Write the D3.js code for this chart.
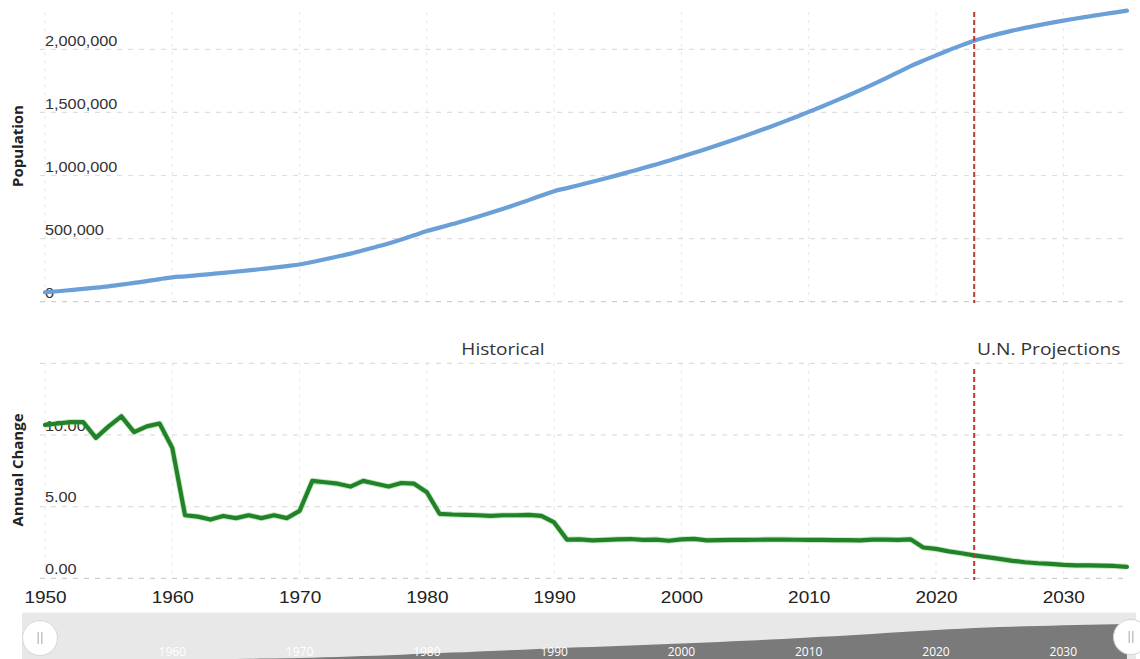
<!DOCTYPE html>
<html>
<head>
<meta charset="utf-8">
<script src="https://cdn.jsdelivr.net/npm/d3@7"></script>
<style>
  body { margin: 0; background: #fff; }
  svg { display: block; font-family: "Open Sans", "DejaVu Sans", sans-serif; }
</style>
</head>
<body>
<svg id="chart" width="1140" height="659"></svg>
<script>
// Yearly series, 1950–2035 (2023 onward are U.N. projections)
const years = [
  1950,1951,1952,1953,1954,1955,1956,1957,1958,1959,
  1960,1961,1962,1963,1964,1965,1966,1967,1968,1969,
  1970,1971,1972,1973,1974,1975,1976,1977,1978,1979,
  1980,1981,1982,1983,1984,1985,1986,1987,1988,1989,
  1990,1991,1992,1993,1994,1995,1996,1997,1998,1999,
  2000,2001,2002,2003,2004,2005,2006,2007,2008,2009,
  2010,2011,2012,2013,2014,2015,2016,2017,2018,2019,
  2020,2021,2022,2023,2024,2025,2026,2027,2028,2029,
  2030,2031,2032,2033,2034,2035
];

const population = [
  75000,83000,92000,101000,111000,122000,135000,149000,163000,179000,
  193000,201000,210000,219000,228000,238000,248000,259000,270000,282000,
  295000,315000,336000,358000,381000,407000,434000,462000,493000,526000,
  560000,587000,615000,643000,673000,704000,736000,770000,805000,841000,
  876000,900000,925000,950000,976000,1003000,1031000,1059000,1088000,1117000,
  1148000,1180000,1212000,1245000,1279000,1314000,1350000,1387000,1425000,1464000,
  1504000,1545000,1587000,1630000,1674000,1720000,1768000,1817000,1866000,1910000,
  1952000,1993000,2031000,2068000,2097000,2124000,2148000,2170000,2190000,2209000,
  2227000,2244000,2260000,2276000,2291000,2306000
];

const annualChange = [
  10.7,10.8,10.9,10.9,9.8,10.6,11.3,10.2,10.6,10.8,
  9.1,4.4,4.3,4.1,4.35,4.2,4.4,4.2,4.4,4.2,
  4.7,6.8,6.7,6.6,6.4,6.8,6.6,6.4,6.65,6.6,
  6.0,4.5,4.45,4.42,4.4,4.35,4.4,4.4,4.42,4.35,
  3.9,2.7,2.72,2.65,2.68,2.72,2.74,2.68,2.7,2.62,
  2.72,2.75,2.65,2.67,2.68,2.68,2.69,2.7,2.7,2.69,
  2.68,2.68,2.67,2.66,2.65,2.7,2.7,2.68,2.72,2.15,
  2.05,1.88,1.75,1.6,1.48,1.35,1.22,1.12,1.05,1.0,
  0.94,0.9,0.9,0.88,0.86,0.8
];

const yearTicks = [1950,1960,1970,1980,1990,2000,2010,2020,2030];
const navYearTicks = [1960,1970,1980,1990,2000,2010,2020,2030];
const populationTicks = [0,500000,1000000,1500000,2000000];
const changeTicks = [0,5,10,15];
const changeLabelTicks = [0,5,10];
const projectionStart = 2023;
const historicalLabel = "Historical";
const projectionLabel = "U.N. Projections";
const populationTitle = "Population";
const changeTitle = "Annual Change";

const svg = d3.select("#chart");

// Scales
const x = d3.scaleLinear().domain([1950, 2030]).range([45, 1063.3]);
const yPop = d3.scaleLinear().domain([0, 2000000]).range([301.7, 49.3]);
const yChg = d3.scaleLinear().domain([0, 15]).range([578.3, 363.3]);
const yNav = d3.scaleLinear().domain([0, 2306000]).range([663, 624]);

// Widen glyphs horizontally by factor k
function widen(sel, k) {
  sel.each(function () {
    const w = this.getComputedTextLength();
    d3.select(this).attr("textLength", w * k).attr("lengthAdjust", "spacingAndGlyphs");
  });
}

const gridColor = "#dedede";
const left = 40, right = 1128;

// ---------- Grid: top panel ----------
const gTopGrid = svg.append("g");
gTopGrid.selectAll("line.v").data(yearTicks).join("line")
  .attr("x1", d => x(d)).attr("x2", d => x(d))
  .attr("y1", 12).attr("y2", 302)
  .attr("stroke", "#e6e6e6").attr("stroke-width", 1)
  .attr("stroke-dasharray", "3,5");
gTopGrid.selectAll("line.h").data(populationTicks).join("line")
  .attr("x1", left).attr("x2", right)
  .attr("y1", d => yPop(d)).attr("y2", d => yPop(d))
  .attr("stroke", d => d === 0 ? "#cfcfcf" : gridColor).attr("stroke-width", 1.2)
  .attr("stroke-dasharray", "5,6");

// ---------- Grid: bottom panel ----------
const gBotGrid = svg.append("g");
gBotGrid.selectAll("line.v").data(yearTicks).join("line")
  .attr("x1", d => x(d)).attr("x2", d => x(d))
  .attr("y1", 363).attr("y2", 579)
  .attr("stroke", "#e6e6e6").attr("stroke-width", 1)
  .attr("stroke-dasharray", "3,5");
gBotGrid.selectAll("line.h").data(changeTicks).join("line")
  .attr("x1", left).attr("x2", right)
  .attr("y1", d => yChg(d)).attr("y2", d => yChg(d))
  .attr("stroke", d => d === 0 ? "#cfcfcf" : gridColor).attr("stroke-width", 1.2)
  .attr("stroke-dasharray", "5,6");

// ---------- Y axes (labels sit inside the plot, just above each gridline) ----------
const popAxis = d3.axisRight(yPop).tickValues(populationTicks)
  .tickFormat(d3.format(",")).tickSize(0).tickPadding(0);
const gPopAxis = svg.append("g").attr("transform", "translate(45,0)").call(popAxis);
gPopAxis.select(".domain").remove();
gPopAxis.selectAll("text")
  .attr("dy", "-0.25em").attr("x", 0)
  .style("font-size", "15.5px").style("fill", "#333");
widen(gPopAxis.selectAll("text"), 1.05);

const chgAxis = d3.axisRight(yChg).tickValues(changeLabelTicks)
  .tickFormat(d3.format(".2f")).tickSize(0).tickPadding(0);
const gChgAxis = svg.append("g").attr("transform", "translate(45,0)").call(chgAxis);
gChgAxis.select(".domain").remove();
gChgAxis.selectAll("text")
  .attr("dy", "-0.32em").attr("x", 0)
  .style("font-size", "15.5px").style("fill", "#333");
widen(gChgAxis.selectAll("text"), 1.05);

// Axis titles
svg.append("text")
  .attr("transform", "translate(23,146) rotate(-90)")
  .attr("text-anchor", "middle")
  .style("font-size", "15px").style("font-weight", "bold").style("fill", "#222")
  .text(populationTitle);
svg.append("text")
  .attr("transform", "translate(23,470) rotate(-90)")
  .attr("text-anchor", "middle")
  .style("font-size", "15px").style("font-weight", "bold").style("fill", "#222")
  .text(changeTitle);

// ---------- X axis ----------
const xAxis = d3.axisBottom(x).tickValues(yearTicks).tickFormat(d3.format("d")).tickSize(0).tickPadding(0);
const gX = svg.append("g").attr("transform", "translate(0,591)").call(xAxis);
gX.select(".domain").remove();
gX.selectAll("text").attr("dy", "0.71em")
  .style("font-size", "16.5px").style("fill", "#222");
widen(gX.selectAll("text"), 1.15);

// ---------- Period labels ----------
const tHist = svg.append("text").attr("x", 503).attr("y", 355).attr("text-anchor", "middle")
  .style("font-size", "16px").style("fill", "#333").text(historicalLabel);
const tProj = svg.append("text").attr("x", 977).attr("y", 355).attr("text-anchor", "start")
  .style("font-size", "16px").style("fill", "#333").text(projectionLabel);
widen(tHist, 1.19);
widen(tProj, 1.2);

// ---------- Series lines ----------
const popLine = d3.line().x((d, i) => x(years[i])).y(d => yPop(d)).curve(d3.curveMonotoneX);
svg.append("path").datum(population)
  .attr("d", popLine).attr("fill", "none")
  .attr("stroke", "#6a9fd8").attr("stroke-width", 4.2)
  .attr("stroke-linejoin", "round").attr("stroke-linecap", "round");

const chgLine = d3.line().x((d, i) => x(years[i])).y(d => yChg(d));
svg.append("path").datum(annualChange)
  .attr("d", chgLine).attr("fill", "none")
  .attr("stroke", "#5fbf4f").attr("stroke-width", 6).attr("stroke-opacity", 0.35)
  .attr("stroke-linejoin", "round");
svg.append("path").datum(annualChange)
  .attr("d", chgLine).attr("fill", "none")
  .attr("stroke", "#21822a").attr("stroke-width", 4.2)
  .attr("stroke-linejoin", "round").attr("stroke-linecap", "round");

// ---------- Projection marker ----------
const px = x(projectionStart);
[[12, 303], [369, 580]].forEach(([a, b]) => {
  svg.append("line")
    .attr("x1", px).attr("x2", px).attr("y1", a).attr("y2", b)
    .attr("stroke", "#b83a30").attr("stroke-width", 2)
    .attr("stroke-dasharray", "5,3");
});

// ---------- Navigator ----------
const gNav = svg.append("g");
gNav.append("rect").attr("x", 22).attr("y", 612.7).attr("width", 1114).attr("height", 60)
  .attr("fill", "#e8e8e8");
const navArea = d3.area().x((d, i) => x(years[i])).y0(670).y1(d => yNav(d));
gNav.append("path").datum(population).attr("d", navArea).attr("fill", "#7a7a7a");
gNav.selectAll("text").data(navYearTicks).join("text")
  .attr("x", d => x(d)).attr("y", 656).attr("text-anchor", "middle")
  .style("font-size", "12px").style("fill", "#fff").text(d => d);

function handle(cx, cy) {
  const g = gNav.append("g");
  g.append("circle").attr("cx", cx).attr("cy", cy).attr("r", 17.5)
    .attr("fill", "#fff").attr("stroke", "#d4d4d4").attr("stroke-width", 1);
  [-1.8, 1.8].forEach(dx => {
    g.append("line").attr("x1", cx + dx).attr("x2", cx + dx)
      .attr("y1", cy - 6).attr("y2", cy + 6)
      .attr("stroke", "#b5b5b5").attr("stroke-width", 1.2);
  });
}
handle(40, 638);
handle(1131, 637);
</script>
</body>
</html>
